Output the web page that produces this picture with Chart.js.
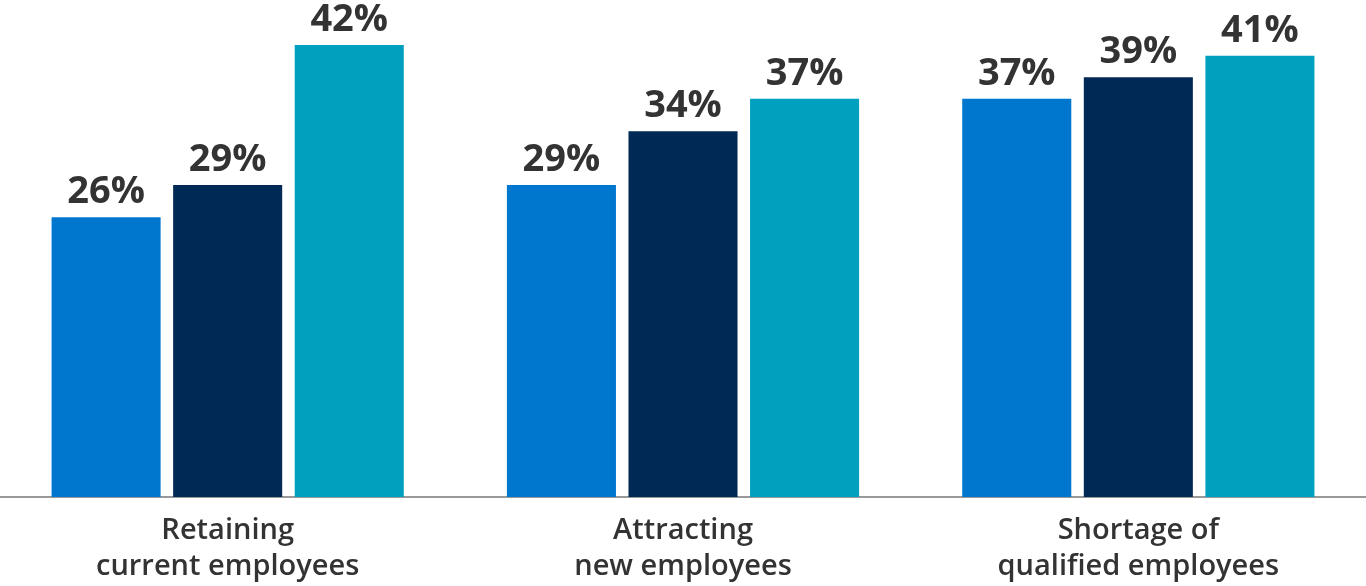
<!DOCTYPE html>
<html>
<head>
<meta charset="utf-8">
<script src="https://cdn.jsdelivr.net/npm/chart.js@4"></script>
<style>
  html, body { margin: 0; padding: 0; background: #fff; }
  canvas { display: block; }
</style>
</head>
<body>
<canvas id="chart" width="1366" height="586"></canvas>
<script>
const categories = [
  ["Retaining", "current employees"],
  ["Attracting", "new employees"],
  ["Shortage of", "qualified employees"],
];
const seriesA = [26, 29, 37];
const seriesB = [29, 34, 39];
const seriesC = [42, 37, 41];
const seriesColors = ["#0077CF", "#002A55", "#00A0BE"];

const valueLabels = {
  id: "valueLabels",
  afterDatasetsDraw(chart) {
    const { ctx } = chart;
    ctx.save();
    ctx.font = "bold 38px 'Open Sans'";
    ctx.fillStyle = "#333333";
    ctx.textAlign = "center";
    ctx.textBaseline = "alphabetic";
    chart.data.datasets.forEach((ds, i) => {
      chart.getDatasetMeta(i).data.forEach((bar, j) => {
        ctx.fillText(`${ds.data[j]}%`, bar.x, bar.y - 14);
      });
    });
    ctx.restore();
  },
};

new Chart(document.getElementById("chart"), {
  type: "bar",
  data: {
    labels: categories,
    datasets: [seriesA, seriesB, seriesC].map((values, i) => ({
      data: values,
      backgroundColor: seriesColors[i],
      categoryPercentage: 0.801,
      barPercentage: 0.897,
    })),
  },
  options: {
    responsive: false,
    animation: false,
    layout: { padding: { top: 2, left: 0, right: 0, bottom: 0 } },
    plugins: {
      legend: { display: false },
      tooltip: { enabled: false },
    },
    scales: {
      x: {
        grid: { display: false, drawTicks: false },
        border: { color: "#999999", width: 2 },
        afterFit(scale) {
          scale.height = 89;
        },
        ticks: {
          color: "#333333",
          padding: 16,
          maxRotation: 0,
          font: { family: "'Open Sans'", size: 29, weight: 600, lineHeight: 1.24 },
        },
      },
      y: {
        display: false,
        min: 0,
        max: 46,
      },
    },
  },
  plugins: [valueLabels],
});
</script>
</body>
</html>
